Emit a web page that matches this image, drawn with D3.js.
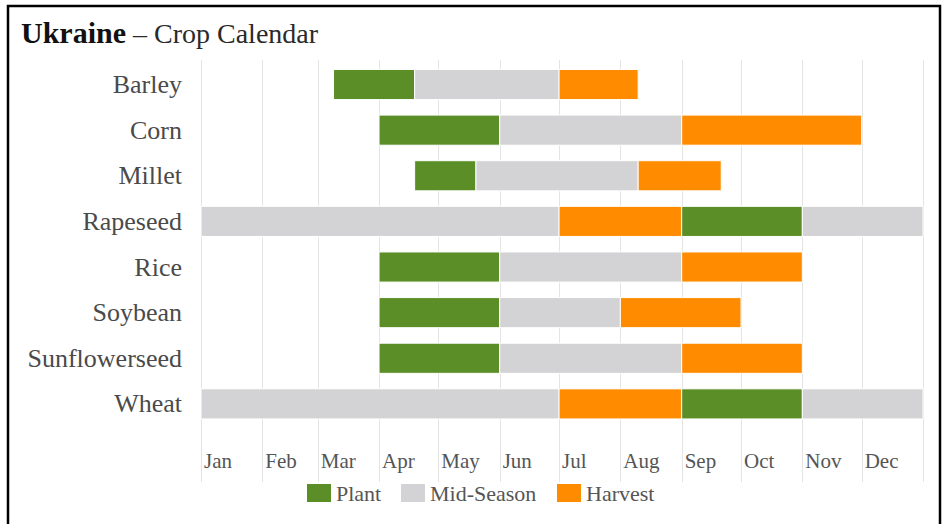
<!DOCTYPE html>
<html>
<head>
<meta charset="utf-8">
<script src="https://cdn.jsdelivr.net/npm/d3@7"></script>
<style>
body { margin: 0; background: #fff; }
text { font-family: "Liberation Serif", "Times New Roman", serif; }
</style>
</head>
<body>
<div class="container"></div>
<script>
const wd = 947
const ht = 524

// crops top to bottom
const crops = ["Barley", "Corn", "Millet", "Rapeseed", "Rice", "Soybean", "Sunflowerseed", "Wheat"]
const months = ["Jan", "Feb", "Mar", "Apr", "May", "Jun", "Jul", "Aug", "Sep", "Oct", "Nov", "Dec"]
const stages = ["Plant", "Mid-Season", "Harvest"]
const stageColors = ["#5b8e27", "#d3d2d4", "#ff8c00"]

// segments per crop: [stage, start, end] as MM-DD (end "12-31" = year end)
const barley = [["Plant", "03-09", "04-19"], ["Mid-Season", "04-19", "07-01"], ["Harvest", "07-01", "08-10"]]
const corn = [["Plant", "04-01", "06-01"], ["Mid-Season", "06-01", "09-01"], ["Harvest", "09-01", "12-01"]]
const millet = [["Plant", "04-19", "05-20"], ["Mid-Season", "05-20", "08-10"], ["Harvest", "08-10", "09-21"]]
const rapeseed = [["Mid-Season", "01-01", "07-01"], ["Harvest", "07-01", "09-01"], ["Plant", "09-01", "11-01"], ["Mid-Season", "11-01", "12-31"]]
const rice = [["Plant", "04-01", "06-01"], ["Mid-Season", "06-01", "09-01"], ["Harvest", "09-01", "11-01"]]
const soybean = [["Plant", "04-01", "06-01"], ["Mid-Season", "06-01", "08-01"], ["Harvest", "08-01", "10-01"]]
const sunflowerseed = [["Plant", "04-01", "06-01"], ["Mid-Season", "06-01", "09-01"], ["Harvest", "09-01", "11-01"]]
const wheat = [["Mid-Season", "01-01", "07-01"], ["Harvest", "07-01", "09-01"], ["Plant", "09-01", "11-01"], ["Mid-Season", "11-01", "12-31"]]

const cropSegments = [barley, corn, millet, rapeseed, rice, soybean, sunflowerseed, wheat]

const parseDay = d3.timeParse("%Y-%m-%d")
function toDate(md) {
    if (md == "12-31") return parseDay("2020-01-01")
    return parseDay("2019-" + md)
}

let segs = []
cropSegments.forEach((list, i) => {
    list.forEach(s => {
        segs.push({crop: crops[i], stage: s[0], start: toDate(s[1]), end: toDate(s[2])})
    })
})

const svg = d3.select(".container")
.append("svg")
.attr("width", wd)
.attr("height", ht)

// frame (bottom edge sits off the picture)
svg.append("rect")
.attr("x", 8).attr("y", 6)
.attr("width", 932).attr("height", 530)
.attr("fill", "none")
.style("stroke", "#000")
.style("stroke-width", "2.5px")

// title
const title = svg.append("text")
.attr("x", 21).attr("y", 43)
.attr("fill", "#111")
title.append("tspan").attr("font-weight", "bold").attr("font-size", "30px").text("Ukraine")
title.append("tspan").attr("font-size", "28px").attr("fill", "#2a2a2a").text(" \u2013 Crop Calendar")

const x = d3.scaleTime()
.domain([parseDay("2019-01-01"), parseDay("2020-01-01")])
.range([201, 923])

const y = d3.scaleBand()
.domain(crops)
.range([61.7, 426.7])
.paddingInner(0.34)
.paddingOuter(0.17)

const color = d3.scaleOrdinal().domain(stages).range(stageColors)

const monthStarts = d3.timeMonth.range(parseDay("2019-01-01"), parseDay("2020-01-02"))

// gridlines
svg.append("g")
.selectAll("line")
.data(monthStarts)
.join("line")
.attr("x1", d => Math.round(x(d)) + 0.5)
.attr("x2", d => Math.round(x(d)) + 0.5)
.attr("y1", 60)
.attr("y2", 482)
.style("stroke", "#e4e4e4")
.style("stroke-width", "1px")

// month labels
svg.append("g")
.selectAll("text")
.data(monthStarts.slice(0, 12))
.join("text")
.attr("x", d => x(d) + 3)
.attr("y", 468)
.attr("font-size", "21px")
.attr("fill", "#555")
.text((d, i) => months[i])

// crop labels
svg.append("g")
.selectAll("text")
.data(crops)
.join("text")
.attr("x", 182)
.attr("y", d => y(d) + y.bandwidth() / 2)
.attr("dy", "0.33em")
.attr("text-anchor", "end")
.attr("font-size", "26px")
.attr("fill", "#4a4a4a")
.text(d => d)

// bars
svg.append("g")
.selectAll("rect")
.data(segs)
.join("rect")
.attr("x", d => x(d.start))
.attr("y", d => y(d.crop))
.attr("width", d => x(d.end) - x(d.start))
.attr("height", y.bandwidth())
.attr("fill", d => color(d.stage))
.style("stroke", "#fff")
.style("stroke-width", "1px")

// legend
const legendX = [307, 401, 557]
const leg = svg.append("g")
.selectAll("g")
.data(stages)
.join("g")
.attr("transform", (d, i) => `translate(${legendX[i]},484)`)

leg.append("rect")
.attr("width", 24)
.attr("height", 18)
.attr("fill", d => color(d))

leg.append("text")
.attr("x", 29)
.attr("y", 17)
.attr("font-size", "22px")
.attr("fill", "#555")
.text(d => d)
</script>
</body>
</html>
